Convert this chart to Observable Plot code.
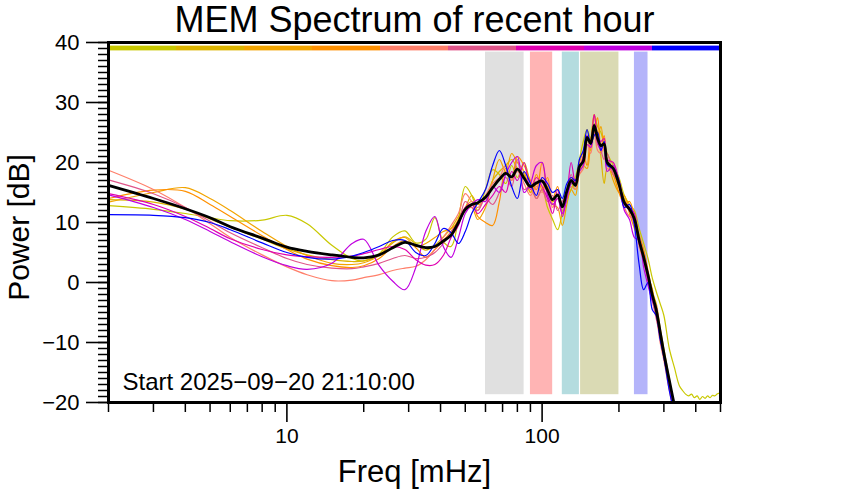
<!DOCTYPE html>
<html><head><meta charset="utf-8">
<script src="https://cdn.jsdelivr.net/npm/d3@7"></script>
<script src="https://cdn.jsdelivr.net/npm/@observablehq/plot@0.6"></script>
<style>body{margin:0;background:#fff}</style>
</head><body><div id="chart"></div>
<script>
const titleText = "MEM Spectrum of recent hour";
const xLabel = "Freq [mHz]";
const yLabel = "Power [dB]";
const startText = "Start 2025\u221209\u221220 21:10:00";

const freq = [2,3,4,5,6,8,10,12,15,18,20,23,26,29,32,35,38,41,44,47,50,53,56,60,64,68,72,76,80,85,90,95,100,105,110,115,120,125,130,135,140,145,150,155,160,165,170,175,180,190,200,210,220,230,240,250,260,270,280,290,300,315,330];

const mean = [16.2,14.0,12.3,10.8,9.3,7.4,5.9,5.2,4.6,4.2,
4.1,4.6,5.8,6.7,6.2,5.8,6.0,6.9,7.9,10.0,
12.2,13.0,13.3,14.2,15.8,17.2,18.2,17.6,18.9,17.4,
16.0,16.6,16.9,15.4,13.8,14.6,12.6,15.2,17.0,16.2,
19.3,20.2,24.2,23.2,26.2,24.0,22.8,23.1,20.0,19.0,
16.4,13.3,12.2,10.6,7.0,4.2,1.2,-2.0,-4.6,-8.2,
-11.8,-16.3,-20.5];

const yellowGreen = [12.8,12.2,11.5,10.8,10.3,10.4,11.2,9.8,6.2,4.0,
3.6,4.8,7.6,8.6,6.6,7.2,10.8,6.8,6.0,10.5,
16.0,14.5,12.0,15.5,18.8,18.0,16.5,19.5,17.5,20.0,
16.5,14.0,15.5,12.5,10.5,8.8,11.5,14.0,15.5,17.5,
20.5,23.5,25.5,24.0,28.0,26.0,25.0,23.0,21.5,19.5,
17.5,14.5,13.0,12.0,9.0,6.5,4.0,0.8,-1.5,-3.5,
-5.5,-11.0,-14.2];
const yellowTailFreq = [345,355,365,375,385,395,405,415,425,435,445,455,465,475,485,495,500];
const yellowTail = [-17.2,-18.0,-18.6,-18.9,-18.6,-19.2,-18.9,-19.5,-19.0,-19.3,-18.9,-19.2,-18.8,-18.9,-18.6,-18.4,-18.2];

const gold = [13.8,13.4,12.2,10.6,9.2,7.2,5.6,4.6,3.8,3.5,
3.6,4.6,6.6,7.6,6.4,5.4,6.2,7.6,9.0,11.0,
12.5,14.5,13.0,14.0,17.0,18.5,19.5,20.5,19.0,18.0,
15.0,16.5,17.0,16.0,13.5,14.0,12.0,14.5,16.5,15.5,
19.0,21.0,24.0,22.0,26.5,25.0,21.0,16.5,19.0,18.0,
16.0,14.0,12.0,10.5,7.5,5.0,1.5,-1.5,-3.5,-7.5,
-11.0,-16.0,-21.0];

const orange = [13.4,15.0,15.8,14.0,12.0,8.5,6.0,4.5,3.2,3.0,
3.3,4.5,6.8,7.5,6.0,6.5,7.5,8.5,9.0,10.0,
12.0,12.5,10.5,12.5,17.0,20.5,18.5,21.5,20.0,18.5,
15.0,18.0,15.5,17.5,13.0,12.5,9.5,13.0,15.5,14.5,
18.5,19.5,19.0,23.5,28.0,24.5,26.0,22.0,20.5,17.0,
15.0,14.5,11.5,9.0,7.0,4.5,1.0,-1.0,-5.0,-8.0,
-11.5,-17.0,-22.0];

const darkOrange = [14.0,15.4,15.2,13.0,11.0,7.8,5.5,3.9,2.8,2.5,
2.8,4.0,6.0,7.0,5.8,4.2,5.5,7.0,8.5,10.5,
12.5,13.5,11.0,10.0,9.5,13.5,19.0,17.0,21.0,19.5,
17.0,15.5,20.0,15.5,14.0,16.0,12.5,15.5,17.5,16.5,
20.0,21.5,19.5,24.0,25.0,27.5,22.5,24.5,20.0,18.0,
15.0,13.0,13.5,11.0,8.0,5.5,2.0,-1.5,-5.0,-9.0,
-12.5,-17.5,-22.0];

const salmon = [18.7,15.5,12.5,9.8,7.5,4.6,2.6,1.3,0.3,0.4,
0.8,1.3,2.0,2.4,2.7,3.8,5.5,7.5,9.5,11.5,
14.8,13.5,12.5,14.5,16.5,17.5,19.5,17.0,18.5,16.5,
14.5,16.0,15.0,17.0,12.5,14.0,11.5,14.5,16.0,15.5,
18.0,19.0,23.0,21.5,25.0,22.0,21.5,22.5,19.0,18.5,
16.0,12.5,11.0,10.5,6.0,3.5,0.5,-2.5,-5.5,-10.0,
-13.0,-18.0,-22.0];

const rose = [17.1,14.8,12.5,10.2,8.3,5.8,4.0,3.0,2.4,2.3,
2.6,3.2,4.0,4.5,4.0,4.2,5.0,6.5,8.5,10.0,
13.5,12.5,12.0,14.0,13.0,15.0,17.5,16.0,20.5,15.5,
16.0,14.0,15.5,13.5,14.5,12.0,13.5,15.0,18.0,16.0,
19.5,20.0,24.0,22.5,25.5,23.0,22.0,20.5,21.5,18.0,
17.0,13.0,12.0,9.5,7.5,4.0,0.0,-3.0,-6.0,-9.0,
-12.5,-17.0,-21.5];

const magenta = [14.8,13.0,11.0,9.0,7.3,5.5,4.6,4.3,4.2,4.4,
4.8,5.5,6.0,5.5,3.8,2.9,3.0,4.5,7.5,9.5,
12.5,13.0,11.5,13.0,14.5,16.0,15.0,18.5,17.0,20.0,
15.5,17.5,16.0,14.0,11.5,15.5,11.0,14.5,20.0,16.5,
19.0,21.0,24.5,23.5,28.0,24.5,23.5,24.0,20.5,20.0,
17.0,13.5,12.5,11.5,6.5,4.5,1.5,-2.5,-4.0,-8.5,
-12.0,-16.5,-21.0];

const purple = [14.6,12.5,10.5,8.5,6.8,4.3,2.8,2.2,3.2,6.5,
7.2,2.8,0.2,-1.2,2.5,8.5,11.0,6.0,4.2,7.5,
11.5,13.0,13.8,13.5,16.0,15.0,18.0,20.0,21.0,15.0,
16.5,19.5,20.0,14.5,13.0,14.0,11.5,14.0,16.5,17.0,
18.5,19.5,23.0,22.5,26.0,23.5,22.0,23.5,18.5,19.5,
16.5,12.0,10.5,7.5,7.0,2.5,-0.5,-3.0,-4.5,-9.0,
-12.0,-17.0,-21.5];

const blue = [11.3,11.2,10.8,10.0,8.8,6.6,5.0,4.2,3.9,4.4,
5.0,6.0,7.0,7.0,5.0,4.5,6.5,9.0,8.3,6.5,
8.5,11.5,13.3,15.5,19.5,22.0,19.5,16.0,14.0,18.5,
16.5,14.5,17.5,16.5,15.0,15.5,14.0,16.5,17.5,17.0,
20.5,22.0,25.5,23.0,24.5,25.0,22.0,23.5,19.5,19.0,
17.0,12.5,13.0,9.5,3.0,-1.2,0.0,-4.5,-5.5,-9.5,
-12.5,-18.0,-22.0];

const runColors = ["#c8c800","#dcb400","#f2a400","#ff9000","#ff7f6a","#e0558a","#e000b0","#c000e0","#0000ff"];
const bandLo = [60, 90, 120, 141.5, 230];
const bandHi = [85, 110, 140, 200, 260];
const bandColors = ["#e0e0e0","#ffb4b4","#b4dcdf","#dadab4","#b4b4fa"];
const yMajor = [-20,-10,0,10,20,30,40];
const yMinor = d3.range(-20, 41, 1);
const xMajor = [10, 100];
const xMinor = [2,3,4,5,6,7,8,9,20,30,40,50,60,70,80,90,200,300,400,500];

const xDomain = [2, 500];
const runs = [yellowGreen, gold, orange, darkOrange, salmon, rose, magenta, purple, blue];
const toRows = (vals, fs) => vals.map((v, i) => ({f: fs[i], v}));

const lineMarks = runs.map((vals, k) => {
  let rows = toRows(vals, freq);
  if (k === 0) rows = rows.concat(toRows(yellowTail, yellowTailFreq));
  return Plot.line(rows, {x: "f", y: "v", stroke: runColors[k], strokeWidth: 1.2, curve: "catmull-rom", clip: true});
});

const bandMarks = bandLo.map((lo, i) =>
  Plot.rect([{lo, hi: bandHi[i]}], {x1: "lo", x2: "hi", y1: () => -18.7, y2: () => 38.4, fill: bandColors[i]}));

// 9 equal segments of the run colour key across the log axis
const segEdges = d3.range(runColors.length + 1).map(i => xDomain[0] * Math.pow(xDomain[1] / xDomain[0], i / runColors.length));
const keyMarks = runColors.map((c, i) =>
  Plot.rect([{a: segEdges[i], b: segEdges[i + 1]}], {x1: "a", x2: "b", y1: () => 38.6, y2: () => 39.4, fill: c}));

const chart = Plot.plot({
  width: 842, height: 500,
  marginLeft: 108, marginRight: 122, marginTop: 42, marginBottom: 98,
  x: {type: "log", domain: xDomain},
  y: {domain: [-20, 40]},
  style: {fontFamily: "'Liberation Sans', Arial, Helvetica, sans-serif", fontSize: "21px", background: "white", color: "black"},
  marks: [
    ...bandMarks,
    ...lineMarks,
    Plot.line(toRows(mean, freq), {x: "f", y: "v", stroke: "black", strokeWidth: 2.8, curve: "catmull-rom", clip: true}),
    ...keyMarks,
    Plot.frame({stroke: "black", strokeWidth: 3}),
    Plot.axisY({ticks: yMinor, tickSize: 10, tickFormat: () => "", label: null, strokeWidth: 1.5}),
    Plot.axisY({ticks: yMajor, tickSize: 22, tickPadding: 7, fontSize: 22, label: null, strokeWidth: 1.6}),
    Plot.axisX({ticks: xMinor, tickSize: 10, tickFormat: () => "", label: null, strokeWidth: 1.5}),
    Plot.axisX({ticks: xMajor, tickSize: 20, tickPadding: 6, fontSize: 21, tickFormat: d => String(d), label: null, strokeWidth: 1.6}),
    Plot.text([titleText], {frameAnchor: "top", dy: -11, fontSize: 36, lineAnchor: "bottom"}),
    Plot.text([xLabel], {frameAnchor: "bottom", dy: 79, fontSize: 31, lineAnchor: "bottom"}),
    Plot.text([yLabel], {frameAnchor: "left", dx: -89, dy: 5, rotate: -90, fontSize: 30, textAnchor: "middle", lineAnchor: "middle"}),
    Plot.text([startText], {frameAnchor: "bottom-left", dx: 14, dy: -13, fontSize: 24, textAnchor: "start", lineAnchor: "bottom"})
  ]
});
document.getElementById("chart").appendChild(chart);
</script>
</body></html>
